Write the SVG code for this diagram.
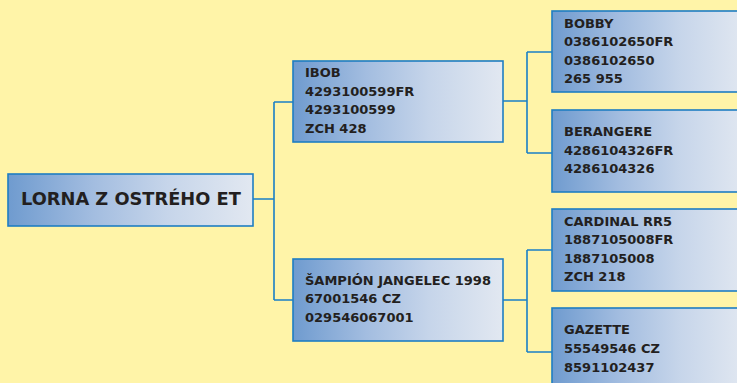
<svg xmlns="http://www.w3.org/2000/svg" width="737" height="383" viewBox="0 0 737 383">
<defs>
<linearGradient id="g" x1="0" y1="0" x2="1" y2="0">
<stop offset="0" stop-color="#6f9bcf"/>
<stop offset="0.35" stop-color="#a3bde0"/>
<stop offset="0.65" stop-color="#c6d5ea"/>
<stop offset="1" stop-color="#e2e8f1"/>
</linearGradient>
</defs>
<style>
.box{fill:url(#g);stroke:#1f7dc2;stroke-width:1.6}
.t{font-family:"DejaVu Sans","Liberation Sans",sans-serif;font-weight:bold;font-size:13px;fill:#231f20}
.root{font-size:17.8px}
.c{fill:none;stroke:#1a7fc6;stroke-width:1.6}
</style>
<rect width="737" height="383" fill="#fff4a8"/>
<g id="connectors">
<path class="c" d="M253,199H274M274,102V300M274,102H293M274,300H293"/>
<path class="c" d="M503,101H527M527,52V153M527,52H552M527,153H552"/>
<path class="c" d="M503,300H527M527,250V352M527,250H552M527,352H552"/>
</g>
<g id="root">
<rect class="box" x="8" y="174" width="245" height="52"/>
<text class="t root" x="21" y="205">LORNA Z OSTRÉHO ET</text>
</g>
<g id="ibob">
<rect class="box" x="293" y="61" width="210" height="81"/>
<text class="t" x="305" y="77">IBOB</text>
<text class="t" x="305" y="96">4293100599FR</text>
<text class="t" x="305" y="114">4293100599</text>
<text class="t" x="305" y="133">ZCH 428</text>
</g>
<g id="sampion">
<rect class="box" x="293" y="259" width="210" height="82"/>
<text class="t" x="305" y="285">ŠAMPIÓN JANGELEC 1998</text>
<text class="t" x="305" y="303">67001546 CZ</text>
<text class="t" x="305" y="322">029546067001</text>
</g>
<g id="bobby">
<rect class="box" x="552" y="11" width="195" height="81"/>
<text class="t" x="564" y="28">BOBBY</text>
<text class="t" x="564" y="46">0386102650FR</text>
<text class="t" x="564" y="65">0386102650</text>
<text class="t" x="564" y="83">265 955</text>
</g>
<g id="berangere">
<rect class="box" x="552" y="110" width="195" height="82"/>
<text class="t" x="564" y="136">BERANGERE</text>
<text class="t" x="564" y="155">4286104326FR</text>
<text class="t" x="564" y="173">4286104326</text>
</g>
<g id="cardinal">
<rect class="box" x="552" y="209" width="195" height="82"/>
<text class="t" x="564" y="226">CARDINAL RR5</text>
<text class="t" x="564" y="244">1887105008FR</text>
<text class="t" x="564" y="263">1887105008</text>
<text class="t" x="564" y="281">ZCH 218</text>
</g>
<g id="gazette">
<rect class="box" x="552" y="308" width="195" height="82"/>
<text class="t" x="564" y="334">GAZETTE</text>
<text class="t" x="564" y="353">55549546 CZ</text>
<text class="t" x="564" y="372">8591102437</text>
</g>
</svg>
